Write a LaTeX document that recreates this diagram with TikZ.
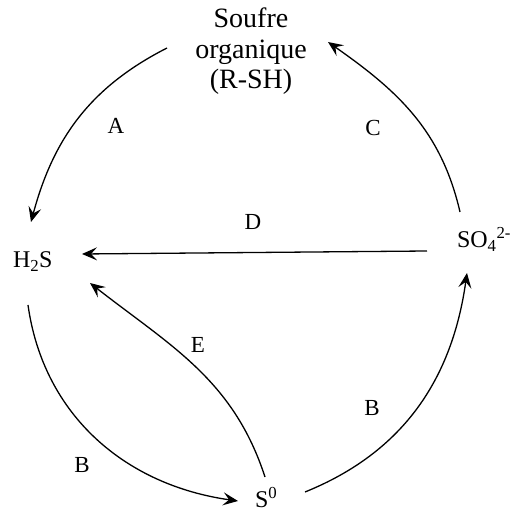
\documentclass[tikz,border=0pt]{standalone}
\usepackage{fontspec}
\setmainfont{Liberation Serif}
\usetikzlibrary{arrows.meta}
\begin{document}
\begin{tikzpicture}[x=1pt,y=1pt,
  species/.style={inner sep=0pt,outer sep=0pt,font=\fontsize{24}{28}\selectfont},
  lbl/.style={inner sep=0pt,font=\fontsize{23}{26}\selectfont},
  arr/.style={line width=1.3pt,-{Stealth[length=15pt,width=13pt,inset=6pt]}}]
\useasboundingbox (0,0) rectangle (512,515);
% species
\node[inner sep=0pt,outer sep=0pt,anchor=north,align=center,
      font=\fontsize{28}{30.5}\selectfont] (top) at (251,507) {Soufre\\organique\\(R-SH)};
\node[species,anchor=base west] (h2s) at (13,247) {H\textsubscript{2}S};
\node[species,anchor=base west] (so4) at (457,267) {SO\textsubscript{4}\textsuperscript{2-}};
\node[species,anchor=base west] (s0) at (255,7) {S\textsuperscript{0}};
% labels
\node[lbl] (la) at (116,389) {A};
\node[lbl] (lc) at (373,387) {C};
\node[lbl] (ld) at (253,293) {D};
\node[lbl] (le) at (198,170) {E};
\node[lbl] (lb1) at (82,50) {B};
\node[lbl] (lb2) at (372,107) {B};
% connectors
\draw[arr] ([shift={(-84,-40)}]top.north) to[out=207,in=75] ([shift={(18,46)}]h2s.base west);
\draw[arr] ([shift={(3,36)}]so4.base west) to[out=103,in=-35] ([shift={(77,-34)}]top.north);
\draw[arr] ([shift={(-30,-3)}]so4.base west) -- ([shift={(69,14)}]h2s.base west);
\draw[arr] ([shift={(15,-37)}]h2s.base west) to[out=-82,in=172] ([shift={(-17,7)}]s0.base west);
\draw[arr] ([shift={(50,16)}]s0.base west) to[out=22,in=-98] ([shift={(10,-25)}]so4.base west);
\draw[arr] ([shift={(10,31)}]s0.base west) to[out=108,in=-38] ([shift={(77,-15)}]h2s.base west);
\end{tikzpicture}
\end{document}
